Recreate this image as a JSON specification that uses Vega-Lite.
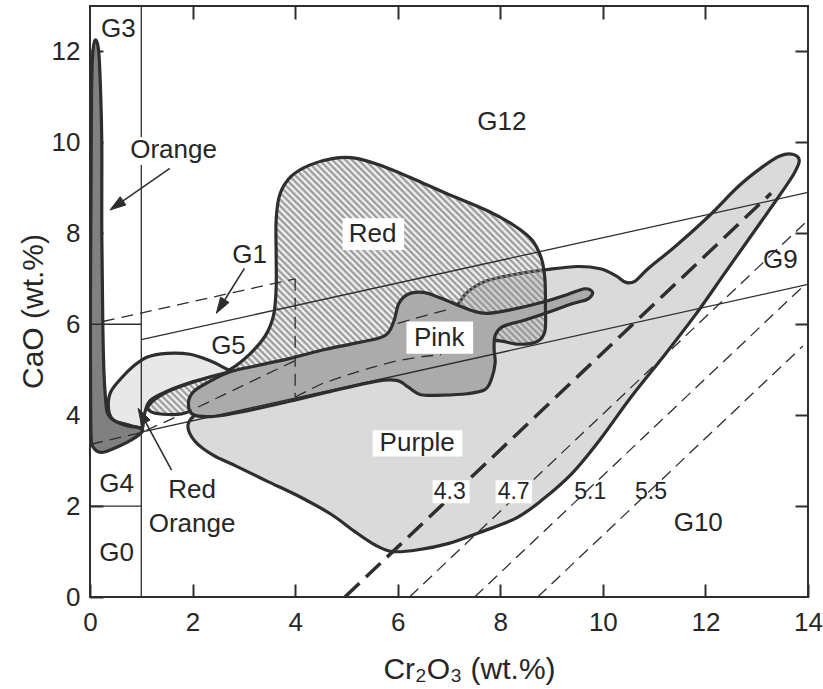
{
"$schema": "https://vega.github.io/schema/vega-lite/v6.json",
"width": 718, "height": 591,
"autosize": {"type": "none"},
"padding": {"left": 90, "top": 6, "right": 15, "bottom": 92},
"background": "white",
"config": {"view": {"stroke": "#2e2e2e", "strokeWidth": 2}, "font": "Liberation Sans"},
"datasets": {
"polys": [
{"g":"Purple","i":1,"x":1.91,"y":3.78},{"g":"Purple","i":2,"x":2.05,"y":3.42},{"g":"Purple","i":3,"x":2.4,"y":3.12},{"g":"Purple","i":4,"x":2.85,"y":2.88},{"g":"Purple","i":5,"x":3.45,"y":2.55},{"g":"Purple","i":6,"x":4.1,"y":2.2},{"g":"Purple","i":7,"x":4.7,"y":1.82},{"g":"Purple","i":8,"x":5.15,"y":1.45},{"g":"Purple","i":9,"x":5.55,"y":1.15},{"g":"Purple","i":10,"x":5.9,"y":1.0},{"g":"Purple","i":11,"x":6.4,"y":1.04},{"g":"Purple","i":12,"x":7.0,"y":1.18},{"g":"Purple","i":13,"x":7.6,"y":1.42},{"g":"Purple","i":14,"x":8.3,"y":1.73},{"g":"Purple","i":15,"x":8.8,"y":2.12},{"g":"Purple","i":16,"x":9.4,"y":2.72},{"g":"Purple","i":17,"x":9.95,"y":3.47},{"g":"Purple","i":18,"x":10.55,"y":4.4},{"g":"Purple","i":19,"x":11.2,"y":5.32},{"g":"Purple","i":20,"x":11.8,"y":6.2},{"g":"Purple","i":21,"x":12.35,"y":7.08},{"g":"Purple","i":22,"x":12.85,"y":7.88},{"g":"Purple","i":23,"x":13.4,"y":8.76},{"g":"Purple","i":24,"x":13.72,"y":9.3},{"g":"Purple","i":25,"x":13.83,"y":9.6},{"g":"Purple","i":26,"x":13.7,"y":9.74},{"g":"Purple","i":27,"x":13.45,"y":9.7},{"g":"Purple","i":28,"x":13.1,"y":9.45},{"g":"Purple","i":29,"x":12.64,"y":9.03},{"g":"Purple","i":30,"x":12.06,"y":8.37},{"g":"Purple","i":31,"x":11.41,"y":7.71},{"g":"Purple","i":32,"x":10.89,"y":7.23},{"g":"Purple","i":33,"x":10.63,"y":6.95},{"g":"Purple","i":34,"x":10.45,"y":6.92},{"g":"Purple","i":35,"x":10.25,"y":7.07},{"g":"Purple","i":36,"x":9.95,"y":7.22},{"g":"Purple","i":37,"x":9.5,"y":7.27},{"g":"Purple","i":38,"x":8.9,"y":7.2},{"g":"Purple","i":39,"x":8.3,"y":7.1},{"g":"Purple","i":40,"x":7.72,"y":6.95},{"g":"Purple","i":41,"x":7.35,"y":6.7},{"g":"Purple","i":42,"x":7.15,"y":6.42},{"g":"Purple","i":43,"x":6.6,"y":5.9},{"g":"Purple","i":44,"x":6.0,"y":5.35},{"g":"Purple","i":45,"x":5.0,"y":5.0},{"g":"Purple","i":46,"x":4.0,"y":4.7},{"g":"Purple","i":47,"x":3.0,"y":4.45},{"g":"Purple","i":48,"x":2.4,"y":4.18},{"g":"Purple","i":49,"x":2.1,"y":4.05},
{"g":"Red","i":1,"x":1.15,"y":4.22},{"g":"Red","i":2,"x":1.45,"y":4.48},{"g":"Red","i":3,"x":1.94,"y":4.7},{"g":"Red","i":4,"x":2.42,"y":4.87},{"g":"Red","i":5,"x":2.75,"y":5.02},{"g":"Red","i":6,"x":3.12,"y":5.35},{"g":"Red","i":7,"x":3.42,"y":5.75},{"g":"Red","i":8,"x":3.58,"y":6.2},{"g":"Red","i":9,"x":3.63,"y":6.8},{"g":"Red","i":10,"x":3.63,"y":7.5},{"g":"Red","i":11,"x":3.63,"y":8.3},{"g":"Red","i":12,"x":3.7,"y":8.85},{"g":"Red","i":13,"x":3.92,"y":9.25},{"g":"Red","i":14,"x":4.28,"y":9.5},{"g":"Red","i":15,"x":4.75,"y":9.65},{"g":"Red","i":16,"x":5.2,"y":9.65},{"g":"Red","i":17,"x":5.7,"y":9.48},{"g":"Red","i":18,"x":6.3,"y":9.2},{"g":"Red","i":19,"x":6.94,"y":8.88},{"g":"Red","i":20,"x":7.78,"y":8.48},{"g":"Red","i":21,"x":8.3,"y":8.15},{"g":"Red","i":22,"x":8.62,"y":7.85},{"g":"Red","i":23,"x":8.8,"y":7.45},{"g":"Red","i":24,"x":8.87,"y":7.0},{"g":"Red","i":25,"x":8.88,"y":6.4},{"g":"Red","i":26,"x":8.87,"y":5.85},{"g":"Red","i":27,"x":8.72,"y":5.62},{"g":"Red","i":28,"x":8.35,"y":5.56},{"g":"Red","i":29,"x":7.95,"y":5.64},{"g":"Red","i":30,"x":7.5,"y":5.6},{"g":"Red","i":31,"x":6.5,"y":5.45},{"g":"Red","i":32,"x":5.5,"y":5.2},{"g":"Red","i":33,"x":4.5,"y":4.95},{"g":"Red","i":34,"x":3.5,"y":4.7},{"g":"Red","i":35,"x":2.7,"y":4.45},{"g":"Red","i":36,"x":2.2,"y":4.2},{"g":"Red","i":37,"x":1.8,"y":4.03},{"g":"Red","i":38,"x":1.42,"y":4.02},{"g":"Red","i":39,"x":1.18,"y":4.08},
{"g":"Pink","i":1,"x":1.92,"y":4.28},{"g":"Pink","i":2,"x":2.02,"y":4.52},{"g":"Pink","i":3,"x":2.3,"y":4.72},{"g":"Pink","i":4,"x":2.72,"y":4.95},{"g":"Pink","i":5,"x":3.3,"y":5.1},{"g":"Pink","i":6,"x":3.9,"y":5.25},{"g":"Pink","i":7,"x":4.6,"y":5.45},{"g":"Pink","i":8,"x":5.25,"y":5.6},{"g":"Pink","i":9,"x":5.75,"y":5.75},{"g":"Pink","i":10,"x":5.92,"y":6.05},{"g":"Pink","i":11,"x":6.02,"y":6.45},{"g":"Pink","i":12,"x":6.2,"y":6.66},{"g":"Pink","i":13,"x":6.5,"y":6.7},{"g":"Pink","i":14,"x":6.85,"y":6.57},{"g":"Pink","i":15,"x":7.15,"y":6.43},{"g":"Pink","i":16,"x":7.5,"y":6.28},{"g":"Pink","i":17,"x":7.75,"y":6.24},{"g":"Pink","i":18,"x":8.17,"y":6.31},{"g":"Pink","i":19,"x":8.88,"y":6.5},{"g":"Pink","i":20,"x":9.3,"y":6.65},{"g":"Pink","i":21,"x":9.65,"y":6.78},{"g":"Pink","i":22,"x":9.8,"y":6.7},{"g":"Pink","i":23,"x":9.7,"y":6.55},{"g":"Pink","i":24,"x":9.4,"y":6.45},{"g":"Pink","i":25,"x":8.88,"y":6.24},{"g":"Pink","i":26,"x":8.45,"y":6.08},{"g":"Pink","i":27,"x":8.05,"y":5.95},{"g":"Pink","i":28,"x":7.9,"y":5.75},{"g":"Pink","i":29,"x":7.88,"y":5.45},{"g":"Pink","i":30,"x":7.9,"y":5.15},{"g":"Pink","i":31,"x":7.83,"y":4.8},{"g":"Pink","i":32,"x":7.7,"y":4.56},{"g":"Pink","i":33,"x":7.35,"y":4.47},{"g":"Pink","i":34,"x":6.87,"y":4.44},{"g":"Pink","i":35,"x":6.45,"y":4.45},{"g":"Pink","i":36,"x":6.2,"y":4.62},{"g":"Pink","i":37,"x":6.0,"y":4.76},{"g":"Pink","i":38,"x":5.6,"y":4.75},{"g":"Pink","i":39,"x":4.6,"y":4.5},{"g":"Pink","i":40,"x":3.95,"y":4.32},{"g":"Pink","i":41,"x":3.0,"y":4.08},{"g":"Pink","i":42,"x":2.4,"y":3.97},{"g":"Pink","i":43,"x":2.0,"y":4.02},
{"g":"RedOrange","i":1,"x":1.0,"y":3.72},{"g":"RedOrange","i":2,"x":0.7,"y":3.8},{"g":"RedOrange","i":3,"x":0.45,"y":3.9},{"g":"RedOrange","i":4,"x":0.36,"y":4.15},{"g":"RedOrange","i":5,"x":0.4,"y":4.5},{"g":"RedOrange","i":6,"x":0.6,"y":4.8},{"g":"RedOrange","i":7,"x":0.85,"y":5.08},{"g":"RedOrange","i":8,"x":1.12,"y":5.28},{"g":"RedOrange","i":9,"x":1.5,"y":5.36},{"g":"RedOrange","i":10,"x":1.95,"y":5.34},{"g":"RedOrange","i":11,"x":2.33,"y":5.2},{"g":"RedOrange","i":12,"x":2.6,"y":5.05},{"g":"RedOrange","i":13,"x":2.7,"y":4.96},{"g":"RedOrange","i":14,"x":2.4,"y":4.86},{"g":"RedOrange","i":15,"x":1.94,"y":4.71},{"g":"RedOrange","i":16,"x":1.49,"y":4.52},{"g":"RedOrange","i":17,"x":1.18,"y":4.33},{"g":"RedOrange","i":18,"x":1.08,"y":4.1},{"g":"RedOrange","i":19,"x":1.04,"y":3.85},
{"g":"Orange","i":1,"x":0.1,"y":12.25},{"g":"Orange","i":2,"x":0.17,"y":12.0},{"g":"Orange","i":3,"x":0.21,"y":11.0},{"g":"Orange","i":4,"x":0.23,"y":10.0},{"g":"Orange","i":5,"x":0.23,"y":9.0},{"g":"Orange","i":6,"x":0.23,"y":8.0},{"g":"Orange","i":7,"x":0.24,"y":7.0},{"g":"Orange","i":8,"x":0.25,"y":6.0},{"g":"Orange","i":9,"x":0.27,"y":5.0},{"g":"Orange","i":10,"x":0.3,"y":4.4},{"g":"Orange","i":11,"x":0.34,"y":4.05},{"g":"Orange","i":12,"x":0.47,"y":3.88},{"g":"Orange","i":13,"x":0.72,"y":3.77},{"g":"Orange","i":14,"x":0.97,"y":3.72},{"g":"Orange","i":15,"x":1.02,"y":3.64},{"g":"Orange","i":16,"x":0.8,"y":3.45},{"g":"Orange","i":17,"x":0.45,"y":3.26},{"g":"Orange","i":18,"x":0.22,"y":3.18},{"g":"Orange","i":19,"x":0.06,"y":3.3},{"g":"Orange","i":20,"x":0.02,"y":3.6},{"g":"Orange","i":21,"x":0.01,"y":5.0},{"g":"Orange","i":22,"x":0.01,"y":7.0},{"g":"Orange","i":23,"x":0.02,"y":9.0},{"g":"Orange","i":24,"x":0.03,"y":11.0},{"g":"Orange","i":25,"x":0.05,"y":11.9}
],
"heads": [
{"g":"ah1","i":1,"x":0.389,"y":8.513},{"g":"ah1","i":2,"x":0.700,"y":8.624},{"g":"ah1","i":3,"x":0.589,"y":8.805},{"g":"ah1","i":4,"x":0.389,"y":8.513},
{"g":"ah2","i":1,"x":2.464,"y":6.241},{"g":"ah2","i":2,"x":2.711,"y":6.479},{"g":"ah2","i":3,"x":2.547,"y":6.596},{"g":"ah2","i":4,"x":2.464,"y":6.241},
{"g":"ah3","i":1,"x":0.939,"y":4.151},{"g":"ah3","i":2,"x":1.172,"y":3.893},{"g":"ah3","i":3,"x":1.002,"y":3.788},{"g":"ah3","i":4,"x":0.939,"y":4.151}
],
"lines": [
{"k":"solid","g":"v1","i":1,"x":1,"y":0},{"k":"solid","g":"v1","i":2,"x":1,"y":13},
{"k":"solid","g":"h2","i":1,"x":0,"y":2},{"k":"solid","g":"h2","i":2,"x":1,"y":2},
{"k":"solid","g":"h6","i":1,"x":0,"y":6},{"k":"solid","g":"h6","i":2,"x":1,"y":6},
{"k":"solid","g":"up","i":1,"x":1,"y":5.66},{"k":"solid","g":"up","i":2,"x":14,"y":8.9},
{"k":"solid","g":"lo","i":1,"x":1,"y":3.625},{"k":"solid","g":"lo","i":2,"x":14,"y":6.875},
{"k":"dash","g":"g1t","i":1,"x":0.25,"y":6.06},{"k":"dash","g":"g1t","i":2,"x":4,"y":7},
{"k":"dash","g":"g1v","i":1,"x":4,"y":7},{"k":"dash","g":"g1v","i":2,"x":4,"y":4.4},
{"k":"dash","g":"d1","i":1,"x":0.02,"y":3.36},{"k":"dash","g":"d1","i":2,"x":1,"y":3.62},{"k":"dash","g":"d1","i":3,"x":2,"y":4.12},{"k":"dash","g":"d1","i":4,"x":3,"y":4.66},{"k":"dash","g":"d1","i":5,"x":4,"y":5.2},
{"k":"dash","g":"d2","i":1,"x":4,"y":4.4},{"k":"dash","g":"d2","i":2,"x":4.5,"y":4.68},{"k":"dash","g":"d2","i":3,"x":5,"y":4.88},{"k":"dash","g":"d2","i":4,"x":5.5,"y":5.05},{"k":"dash","g":"d2","i":5,"x":6,"y":5.2},{"k":"dash","g":"d2","i":6,"x":6.5,"y":5.29},{"k":"dash","g":"d2","i":7,"x":6.85,"y":5.33},
{"k":"dash","g":"d3","i":1,"x":6.0,"y":6.02},{"k":"dash","g":"d3","i":2,"x":6.5,"y":6.18},{"k":"dash","g":"d3","i":3,"x":6.94,"y":6.31},
{"k":"dash","g":"p47","i":1,"x":6.23,"y":0},{"k":"dash","g":"p47","i":2,"x":14,"y":8.29},
{"k":"dash","g":"p51","i":1,"x":7.5,"y":0},{"k":"dash","g":"p51","i":2,"x":13.9,"y":6.83},
{"k":"dash","g":"p55","i":1,"x":8.73,"y":0},{"k":"dash","g":"p55","i":2,"x":13.9,"y":5.52},
{"k":"thick","g":"p43","i":1,"x":4.97,"y":0},{"k":"thick","g":"p43","i":2,"x":13.28,"y":8.88},
{"k":"seg","g":"rr","i":1,"x":8.88,"y":6.2},{"k":"seg","g":"rr","i":2,"x":8.88,"y":6.55},
{"k":"shaft","g":"ar1","i":1,"x":1.556,"y":9.43},{"k":"shaft","g":"ar1","i":2,"x":0.645,"y":8.714},
{"k":"shaft","g":"ar2","i":1,"x":3.01,"y":7.23},{"k":"shaft","g":"ar2","i":2,"x":2.629,"y":6.538},
{"k":"shaft","g":"ar3","i":1,"x":1.59,"y":2.79},{"k":"shaft","g":"ar3","i":2,"x":1.087,"y":3.841}
],
"boxes": [
{"x":0.72,"x2":2.55,"y":9.5,"y2":10.12},
{"x":4.925,"x2":6.125,"y":7.633,"y2":8.33},
{"x":6.17,"x2":7.47,"y":5.35,"y2":6.06},
{"x":5.51,"x2":7.26,"y":3.09,"y2":3.67},
{"x":6.68,"x2":7.4,"y":2.06,"y2":2.57},
{"x":7.908,"x2":8.62,"y":2.06,"y2":2.57}
],
"labels": [
{"t":"G3","sz":"big","x":0.554,"y":12.49},
{"t":"G12","sz":"big","x":8.03,"y":10.45},
{"t":"Orange","sz":"big","x":1.63,"y":9.83},
{"t":"Red","sz":"big","x":5.51,"y":7.98},
{"t":"G1","sz":"big","x":3.11,"y":7.53},
{"t":"G5","sz":"big","x":2.7,"y":5.52},
{"t":"Pink","sz":"big","x":6.81,"y":5.69},
{"t":"Purple","sz":"big","x":6.38,"y":3.38},
{"t":"G4","sz":"big","x":0.519,"y":2.49},
{"t":"G0","sz":"big","x":0.519,"y":0.97},
{"t":"Red","sz":"big","x":1.99,"y":2.35},
{"t":"Orange","sz":"big","x":1.99,"y":1.6},
{"t":"G10","sz":"big","x":11.86,"y":1.63},
{"t":"G9","sz":"big","x":13.46,"y":7.41},
{"t":"4.3","sz":"small","x":7.015,"y":2.316},
{"t":"4.7","sz":"small","x":8.26,"y":2.316},
{"t":"5.1","sz":"small","x":9.755,"y":2.316},
{"t":"5.5","sz":"small","x":10.94,"y":2.316}
]
},
"layer": [
{
"data": {"name": "polys"},
"transform": [{"filter": "datum.g === 'Purple'"}],
"mark": {"type": "line", "interpolate": "cardinal-closed", "fill": "#dadada", "stroke": "#2e2e2e", "strokeWidth": 3.2, "strokeJoin": "round", "clip": true},
"encoding": {
"x": {"field": "x", "type": "quantitative", "scale": {"domain": [0, 14], "nice": false, "zero": false},
"axis": {"orient": "bottom", "values": [0, 2, 4, 6, 8, 10, 12, 14], "format": "d", "tickSize": -13, "tickWidth": 2, "tickColor": "#2e2e2e", "domain": false, "grid": false, "labelFontSize": 26, "labelFont": "Liberation Sans", "labelColor": "#262626", "labelPadding": 25, "labelFlush": false, "labelBaseline": "top", "title": "Cr₂O₃ (wt.%)", "titleFont": "Liberation Sans", "titleFontSize": 30, "titleFontWeight": "normal", "titleColor": "#262626", "titleX": 379, "titleY": 81, "titleAlign": "center", "titleBaseline": "alphabetic"}},
"y": {"field": "y", "type": "quantitative", "scale": {"domain": [0, 13], "nice": false, "zero": false},
"axis": {"orient": "left", "values": [0, 2, 4, 6, 8, 10, 12], "format": "d", "tickSize": -13, "tickWidth": 2, "tickColor": "#2e2e2e", "domain": false, "grid": false, "labelFontSize": 26, "labelFont": "Liberation Sans", "labelColor": "#262626", "labelPadding": 23, "labelFlush": false, "title": "CaO (wt.%)", "titleFont": "Liberation Sans", "titleFontSize": 30, "titleFontWeight": "normal", "titleColor": "#262626", "titleX": -48, "titleY": 305, "titleAngle": -90, "titleAlign": "center", "titleBaseline": "alphabetic"}},
"order": {"field": "i", "type": "quantitative"}
}
},
{
"data": {"name": "polys"},
"transform": [{"filter": "datum.g === 'Red'"}],
"mark": {"type": "line", "interpolate": "cardinal-closed", "stroke": "#2e2e2e", "strokeWidth": 3.2, "strokeJoin": "round", "clip": true,
"fill": {"gradient": "linear", "x1": 0, "y1": 1, "x2": 1.162, "y2": 0.252, "stops": [
{"offset":0,"color":"#8e8e8e"},{"offset":0.005,"color":"rgba(142,142,142,0)"},{"offset":0.01,"color":"#8e8e8e"},{"offset":0.015,"color":"rgba(142,142,142,0)"},{"offset":0.02,"color":"#8e8e8e"},{"offset":0.025,"color":"rgba(142,142,142,0)"},{"offset":0.03,"color":"#8e8e8e"},{"offset":0.035,"color":"rgba(142,142,142,0)"},{"offset":0.04,"color":"#8e8e8e"},{"offset":0.045,"color":"rgba(142,142,142,0)"},
{"offset":0.05,"color":"#8e8e8e"},{"offset":0.055,"color":"rgba(142,142,142,0)"},{"offset":0.06,"color":"#8e8e8e"},{"offset":0.065,"color":"rgba(142,142,142,0)"},{"offset":0.07,"color":"#8e8e8e"},{"offset":0.075,"color":"rgba(142,142,142,0)"},{"offset":0.08,"color":"#8e8e8e"},{"offset":0.085,"color":"rgba(142,142,142,0)"},{"offset":0.09,"color":"#8e8e8e"},{"offset":0.095,"color":"rgba(142,142,142,0)"},
{"offset":0.1,"color":"#8e8e8e"},{"offset":0.105,"color":"rgba(142,142,142,0)"},{"offset":0.11,"color":"#8e8e8e"},{"offset":0.115,"color":"rgba(142,142,142,0)"},{"offset":0.12,"color":"#8e8e8e"},{"offset":0.125,"color":"rgba(142,142,142,0)"},{"offset":0.13,"color":"#8e8e8e"},{"offset":0.135,"color":"rgba(142,142,142,0)"},{"offset":0.14,"color":"#8e8e8e"},{"offset":0.145,"color":"rgba(142,142,142,0)"},
{"offset":0.15,"color":"#8e8e8e"},{"offset":0.155,"color":"rgba(142,142,142,0)"},{"offset":0.16,"color":"#8e8e8e"},{"offset":0.165,"color":"rgba(142,142,142,0)"},{"offset":0.17,"color":"#8e8e8e"},{"offset":0.175,"color":"rgba(142,142,142,0)"},{"offset":0.18,"color":"#8e8e8e"},{"offset":0.185,"color":"rgba(142,142,142,0)"},{"offset":0.19,"color":"#8e8e8e"},{"offset":0.195,"color":"rgba(142,142,142,0)"},
{"offset":0.2,"color":"#8e8e8e"},{"offset":0.205,"color":"rgba(142,142,142,0)"},{"offset":0.21,"color":"#8e8e8e"},{"offset":0.215,"color":"rgba(142,142,142,0)"},{"offset":0.22,"color":"#8e8e8e"},{"offset":0.225,"color":"rgba(142,142,142,0)"},{"offset":0.23,"color":"#8e8e8e"},{"offset":0.235,"color":"rgba(142,142,142,0)"},{"offset":0.24,"color":"#8e8e8e"},{"offset":0.245,"color":"rgba(142,142,142,0)"},
{"offset":0.25,"color":"#8e8e8e"},{"offset":0.255,"color":"rgba(142,142,142,0)"},{"offset":0.26,"color":"#8e8e8e"},{"offset":0.265,"color":"rgba(142,142,142,0)"},{"offset":0.27,"color":"#8e8e8e"},{"offset":0.275,"color":"rgba(142,142,142,0)"},{"offset":0.28,"color":"#8e8e8e"},{"offset":0.285,"color":"rgba(142,142,142,0)"},{"offset":0.29,"color":"#8e8e8e"},{"offset":0.295,"color":"rgba(142,142,142,0)"},
{"offset":0.3,"color":"#8e8e8e"},{"offset":0.305,"color":"rgba(142,142,142,0)"},{"offset":0.31,"color":"#8e8e8e"},{"offset":0.315,"color":"rgba(142,142,142,0)"},{"offset":0.32,"color":"#8e8e8e"},{"offset":0.325,"color":"rgba(142,142,142,0)"},{"offset":0.33,"color":"#8e8e8e"},{"offset":0.335,"color":"rgba(142,142,142,0)"},{"offset":0.34,"color":"#8e8e8e"},{"offset":0.345,"color":"rgba(142,142,142,0)"},
{"offset":0.35,"color":"#8e8e8e"},{"offset":0.355,"color":"rgba(142,142,142,0)"},{"offset":0.36,"color":"#8e8e8e"},{"offset":0.365,"color":"rgba(142,142,142,0)"},{"offset":0.37,"color":"#8e8e8e"},{"offset":0.375,"color":"rgba(142,142,142,0)"},{"offset":0.38,"color":"#8e8e8e"},{"offset":0.385,"color":"rgba(142,142,142,0)"},{"offset":0.39,"color":"#8e8e8e"},{"offset":0.395,"color":"rgba(142,142,142,0)"},
{"offset":0.4,"color":"#8e8e8e"},{"offset":0.405,"color":"rgba(142,142,142,0)"},{"offset":0.41,"color":"#8e8e8e"},{"offset":0.415,"color":"rgba(142,142,142,0)"},{"offset":0.42,"color":"#8e8e8e"},{"offset":0.425,"color":"rgba(142,142,142,0)"},{"offset":0.43,"color":"#8e8e8e"},{"offset":0.435,"color":"rgba(142,142,142,0)"},{"offset":0.44,"color":"#8e8e8e"},{"offset":0.445,"color":"rgba(142,142,142,0)"},
{"offset":0.45,"color":"#8e8e8e"},{"offset":0.455,"color":"rgba(142,142,142,0)"},{"offset":0.46,"color":"#8e8e8e"},{"offset":0.465,"color":"rgba(142,142,142,0)"},{"offset":0.47,"color":"#8e8e8e"},{"offset":0.475,"color":"rgba(142,142,142,0)"},{"offset":0.48,"color":"#8e8e8e"},{"offset":0.485,"color":"rgba(142,142,142,0)"},{"offset":0.49,"color":"#8e8e8e"},{"offset":0.495,"color":"rgba(142,142,142,0)"},
{"offset":0.5,"color":"#8e8e8e"},{"offset":0.505,"color":"rgba(142,142,142,0)"},{"offset":0.51,"color":"#8e8e8e"},{"offset":0.515,"color":"rgba(142,142,142,0)"},{"offset":0.52,"color":"#8e8e8e"},{"offset":0.525,"color":"rgba(142,142,142,0)"},{"offset":0.53,"color":"#8e8e8e"},{"offset":0.535,"color":"rgba(142,142,142,0)"},{"offset":0.54,"color":"#8e8e8e"},{"offset":0.545,"color":"rgba(142,142,142,0)"},
{"offset":0.55,"color":"#8e8e8e"},{"offset":0.555,"color":"rgba(142,142,142,0)"},{"offset":0.56,"color":"#8e8e8e"},{"offset":0.565,"color":"rgba(142,142,142,0)"},{"offset":0.57,"color":"#8e8e8e"},{"offset":0.575,"color":"rgba(142,142,142,0)"},{"offset":0.58,"color":"#8e8e8e"},{"offset":0.585,"color":"rgba(142,142,142,0)"},{"offset":0.59,"color":"#8e8e8e"},{"offset":0.595,"color":"rgba(142,142,142,0)"},
{"offset":0.6,"color":"#8e8e8e"},{"offset":0.605,"color":"rgba(142,142,142,0)"},{"offset":0.61,"color":"#8e8e8e"},{"offset":0.615,"color":"rgba(142,142,142,0)"},{"offset":0.62,"color":"#8e8e8e"},{"offset":0.625,"color":"rgba(142,142,142,0)"},{"offset":0.63,"color":"#8e8e8e"},{"offset":0.635,"color":"rgba(142,142,142,0)"},{"offset":0.64,"color":"#8e8e8e"},{"offset":0.645,"color":"rgba(142,142,142,0)"},
{"offset":0.65,"color":"#8e8e8e"},{"offset":0.655,"color":"rgba(142,142,142,0)"},{"offset":0.66,"color":"#8e8e8e"},{"offset":0.665,"color":"rgba(142,142,142,0)"},{"offset":0.67,"color":"#8e8e8e"},{"offset":0.675,"color":"rgba(142,142,142,0)"},{"offset":0.68,"color":"#8e8e8e"},{"offset":0.685,"color":"rgba(142,142,142,0)"},{"offset":0.69,"color":"#8e8e8e"},{"offset":0.695,"color":"rgba(142,142,142,0)"},
{"offset":0.7,"color":"#8e8e8e"},{"offset":0.705,"color":"rgba(142,142,142,0)"},{"offset":0.71,"color":"#8e8e8e"},{"offset":0.715,"color":"rgba(142,142,142,0)"},{"offset":0.72,"color":"#8e8e8e"},{"offset":0.725,"color":"rgba(142,142,142,0)"},{"offset":0.73,"color":"#8e8e8e"},{"offset":0.735,"color":"rgba(142,142,142,0)"},{"offset":0.74,"color":"#8e8e8e"},{"offset":0.745,"color":"rgba(142,142,142,0)"},
{"offset":0.75,"color":"#8e8e8e"},{"offset":0.755,"color":"rgba(142,142,142,0)"},{"offset":0.76,"color":"#8e8e8e"},{"offset":0.765,"color":"rgba(142,142,142,0)"},{"offset":0.77,"color":"#8e8e8e"},{"offset":0.775,"color":"rgba(142,142,142,0)"},{"offset":0.78,"color":"#8e8e8e"},{"offset":0.785,"color":"rgba(142,142,142,0)"},{"offset":0.79,"color":"#8e8e8e"},{"offset":0.795,"color":"rgba(142,142,142,0)"},
{"offset":0.8,"color":"#8e8e8e"},{"offset":0.805,"color":"rgba(142,142,142,0)"},{"offset":0.81,"color":"#8e8e8e"},{"offset":0.815,"color":"rgba(142,142,142,0)"},{"offset":0.82,"color":"#8e8e8e"},{"offset":0.825,"color":"rgba(142,142,142,0)"},{"offset":0.83,"color":"#8e8e8e"},{"offset":0.835,"color":"rgba(142,142,142,0)"},{"offset":0.84,"color":"#8e8e8e"},{"offset":0.845,"color":"rgba(142,142,142,0)"},
{"offset":0.85,"color":"#8e8e8e"},{"offset":0.855,"color":"rgba(142,142,142,0)"},{"offset":0.86,"color":"#8e8e8e"},{"offset":0.865,"color":"rgba(142,142,142,0)"},{"offset":0.87,"color":"#8e8e8e"},{"offset":0.875,"color":"rgba(142,142,142,0)"},{"offset":0.88,"color":"#8e8e8e"},{"offset":0.885,"color":"rgba(142,142,142,0)"},{"offset":0.89,"color":"#8e8e8e"},{"offset":0.895,"color":"rgba(142,142,142,0)"},
{"offset":0.9,"color":"#8e8e8e"},{"offset":0.905,"color":"rgba(142,142,142,0)"},{"offset":0.91,"color":"#8e8e8e"},{"offset":0.915,"color":"rgba(142,142,142,0)"},{"offset":0.92,"color":"#8e8e8e"},{"offset":0.925,"color":"rgba(142,142,142,0)"},{"offset":0.93,"color":"#8e8e8e"},{"offset":0.935,"color":"rgba(142,142,142,0)"},{"offset":0.94,"color":"#8e8e8e"},{"offset":0.945,"color":"rgba(142,142,142,0)"},
{"offset":0.95,"color":"#8e8e8e"},{"offset":0.955,"color":"rgba(142,142,142,0)"},{"offset":0.96,"color":"#8e8e8e"},{"offset":0.965,"color":"rgba(142,142,142,0)"},{"offset":0.97,"color":"#8e8e8e"},{"offset":0.975,"color":"rgba(142,142,142,0)"},{"offset":0.98,"color":"#8e8e8e"},{"offset":0.985,"color":"rgba(142,142,142,0)"},{"offset":0.99,"color":"#8e8e8e"},{"offset":0.995,"color":"rgba(142,142,142,0)"},
{"offset":1,"color":"#8e8e8e"}
]}},
"encoding": {
"x": {"field": "x", "type": "quantitative", "scale": {"domain": [0, 14], "nice": false, "zero": false}, "axis": null},
"y": {"field": "y", "type": "quantitative", "scale": {"domain": [0, 13], "nice": false, "zero": false}, "axis": null},
"order": {"field": "i", "type": "quantitative"}
}
},
{
"data": {"name": "polys"},
"transform": [{"filter": "datum.g === 'Pink'"}],
"mark": {"type": "line", "interpolate": "cardinal-closed", "fill": "#ababab", "stroke": "#2e2e2e", "strokeWidth": 3.2, "strokeJoin": "round", "clip": true},
"encoding": {
"x": {"field": "x", "type": "quantitative", "scale": {"domain": [0, 14], "nice": false, "zero": false}, "axis": null},
"y": {"field": "y", "type": "quantitative", "scale": {"domain": [0, 13], "nice": false, "zero": false}, "axis": null},
"order": {"field": "i", "type": "quantitative"}
}
},
{
"data": {"name": "polys"},
"transform": [{"filter": "datum.g === 'RedOrange'"}],
"mark": {"type": "line", "interpolate": "cardinal-closed", "fill": "#e8e8e8", "stroke": "#2e2e2e", "strokeWidth": 3.2, "strokeJoin": "round", "clip": true},
"encoding": {
"x": {"field": "x", "type": "quantitative", "scale": {"domain": [0, 14], "nice": false, "zero": false}, "axis": null},
"y": {"field": "y", "type": "quantitative", "scale": {"domain": [0, 13], "nice": false, "zero": false}, "axis": null},
"order": {"field": "i", "type": "quantitative"}
}
},
{
"data": {"name": "polys"},
"transform": [{"filter": "datum.g === 'Orange'"}],
"mark": {"type": "line", "interpolate": "cardinal-closed", "fill": "#808080", "stroke": "#2e2e2e", "strokeWidth": 3.2, "strokeJoin": "round", "clip": true},
"encoding": {
"x": {"field": "x", "type": "quantitative", "scale": {"domain": [0, 14], "nice": false, "zero": false}, "axis": null},
"y": {"field": "y", "type": "quantitative", "scale": {"domain": [0, 13], "nice": false, "zero": false}, "axis": null},
"order": {"field": "i", "type": "quantitative"}
}
},
{
"data": {"name": "lines"},
"transform": [{"filter": "datum.k === 'solid'"}],
"mark": {"type": "line", "stroke": "#2e2e2e", "strokeWidth": 1.3, "clip": true},
"encoding": {
"x": {"field": "x", "type": "quantitative", "scale": {"domain": [0, 14], "nice": false, "zero": false},
"axis": {"orient": "top", "values": [2, 4, 6, 8, 10, 12], "labels": false, "tickSize": -13, "tickWidth": 2, "tickColor": "#2e2e2e", "domain": false, "grid": false, "title": null}},
"y": {"field": "y", "type": "quantitative", "scale": {"domain": [0, 13], "nice": false, "zero": false},
"axis": {"orient": "right", "values": [2, 4, 6, 8, 10, 12], "labels": false, "tickSize": -13, "tickWidth": 2, "tickColor": "#2e2e2e", "domain": false, "grid": false, "title": null}},
"detail": {"field": "g"},
"order": {"field": "i", "type": "quantitative"}
}
},
{
"data": {"name": "lines"},
"transform": [{"filter": "datum.k === 'dash'"}],
"mark": {"type": "line", "stroke": "#2e2e2e", "strokeWidth": 1.3, "strokeDash": [12, 7], "clip": true},
"encoding": {
"x": {"field": "x", "type": "quantitative", "scale": {"domain": [0, 14], "nice": false, "zero": false}, "axis": null},
"y": {"field": "y", "type": "quantitative", "scale": {"domain": [0, 13], "nice": false, "zero": false}, "axis": null},
"detail": {"field": "g"},
"order": {"field": "i", "type": "quantitative"}
}
},
{
"data": {"name": "lines"},
"transform": [{"filter": "datum.k === 'thick'"}],
"mark": {"type": "line", "stroke": "#2e2e2e", "strokeWidth": 3.5, "strokeDash": [20, 9], "clip": true},
"encoding": {
"x": {"field": "x", "type": "quantitative", "scale": {"domain": [0, 14], "nice": false, "zero": false}, "axis": null},
"y": {"field": "y", "type": "quantitative", "scale": {"domain": [0, 13], "nice": false, "zero": false}, "axis": null},
"detail": {"field": "g"},
"order": {"field": "i", "type": "quantitative"}
}
},
{
"data": {"name": "lines"},
"transform": [{"filter": "datum.k === 'seg'"}],
"mark": {"type": "line", "stroke": "#2e2e2e", "strokeWidth": 3.2, "clip": true},
"encoding": {
"x": {"field": "x", "type": "quantitative", "scale": {"domain": [0, 14], "nice": false, "zero": false}, "axis": null},
"y": {"field": "y", "type": "quantitative", "scale": {"domain": [0, 13], "nice": false, "zero": false}, "axis": null},
"detail": {"field": "g"},
"order": {"field": "i", "type": "quantitative"}
}
},
{
"data": {"name": "lines"},
"transform": [{"filter": "datum.k === 'shaft'"}],
"mark": {"type": "line", "stroke": "#2e2e2e", "strokeWidth": 1.6, "clip": true},
"encoding": {
"x": {"field": "x", "type": "quantitative", "scale": {"domain": [0, 14], "nice": false, "zero": false}, "axis": null},
"y": {"field": "y", "type": "quantitative", "scale": {"domain": [0, 13], "nice": false, "zero": false}, "axis": null},
"detail": {"field": "g"},
"order": {"field": "i", "type": "quantitative"}
}
},
{
"data": {"name": "heads"},
"mark": {"type": "line", "fill": "#2e2e2e", "stroke": "#2e2e2e", "strokeWidth": 1, "strokeJoin": "miter", "clip": true},
"encoding": {
"x": {"field": "x", "type": "quantitative", "scale": {"domain": [0, 14], "nice": false, "zero": false}, "axis": null},
"y": {"field": "y", "type": "quantitative", "scale": {"domain": [0, 13], "nice": false, "zero": false}, "axis": null},
"detail": {"field": "g"},
"order": {"field": "i", "type": "quantitative"}
}
},
{
"data": {"name": "boxes"},
"mark": {"type": "rect", "fill": "white", "stroke": null},
"encoding": {
"x": {"field": "x", "type": "quantitative", "scale": {"domain": [0, 14], "nice": false, "zero": false}, "axis": null},
"x2": {"field": "x2"},
"y": {"field": "y", "type": "quantitative", "scale": {"domain": [0, 13], "nice": false, "zero": false}, "axis": null},
"y2": {"field": "y2"}
}
},
{
"data": {"name": "labels"},
"transform": [{"filter": "datum.sz === 'big'"}],
"mark": {"type": "text", "font": "Liberation Sans", "fontSize": 26, "color": "#262626", "align": "center", "baseline": "middle"},
"encoding": {
"x": {"field": "x", "type": "quantitative", "scale": {"domain": [0, 14], "nice": false, "zero": false}, "axis": null},
"y": {"field": "y", "type": "quantitative", "scale": {"domain": [0, 13], "nice": false, "zero": false}, "axis": null},
"text": {"field": "t"}
}
},
{
"data": {"name": "labels"},
"transform": [{"filter": "datum.sz === 'small'"}],
"mark": {"type": "text", "font": "Liberation Sans", "fontSize": 23, "color": "#262626", "align": "center", "baseline": "middle"},
"encoding": {
"x": {"field": "x", "type": "quantitative", "scale": {"domain": [0, 14], "nice": false, "zero": false}, "axis": null},
"y": {"field": "y", "type": "quantitative", "scale": {"domain": [0, 13], "nice": false, "zero": false}, "axis": null},
"text": {"field": "t"}
}
}
],
"resolve": {"axis": {"x": "independent", "y": "independent"}}
}
